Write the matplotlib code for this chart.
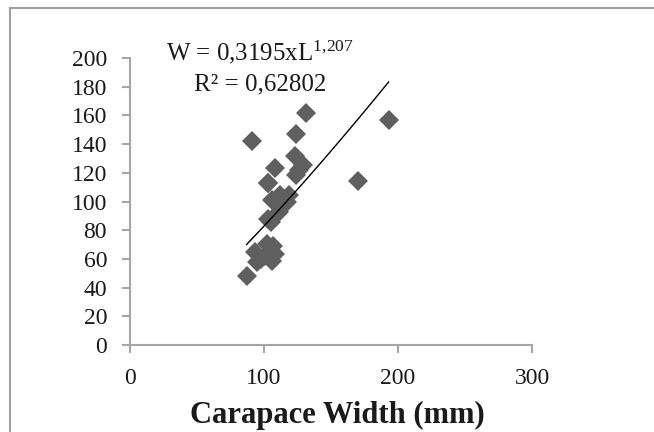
import numpy as np
import matplotlib
matplotlib.use("Agg")
import matplotlib.pyplot as plt
from matplotlib.lines import Line2D

plt.rcParams['font.family'] = ['Liberation Serif', 'DejaVu Serif']
plt.rcParams['mathtext.fontset'] = 'custom'
plt.rcParams['mathtext.rm'] = 'Liberation Serif'
plt.rcParams['mathtext.it'] = 'Liberation Serif'

# Carapace width (mm) and weight (g)
width = [131, 124, 91, 193, 170, 108, 103, 123, 129, 124,
         103, 112, 119, 106, 114, 111, 103, 101, 102, 107,
         93, 98, 106, 95, 108, 87, 105, 117, 126]
weight = [162, 147, 142.5, 157, 114, 123, 113, 131.5, 125.5, 118.5,
          112.7, 104.5, 104.5, 101, 97.4, 92.7, 88, 62, 70.4, 69.2,
          64.6, 60, 58.7, 57.5, 63.4, 48, 86, 100, 122]
coef_a = 0.3195
coef_b = 1.207
eq_text = r'W = 0,3195xL$^{\mathrm{1{,}207}}$'
r2_text = 'R² = 0,62802'
x_ticks = [0, 100, 200, 300]
y_ticks = list(range(0, 201, 20))

fig = plt.figure(figsize=(6.54, 4.32), dpi=100)
ax = fig.add_axes([130/654, 1-345/432, (532-130)/654, (345-58)/432])

ax.plot(width, weight, linestyle='none', marker='D', markersize=10,
        color='#5f5f5f', markeredgewidth=0, clip_on=False)

xs = np.linspace(min(width), max(width), 100)
ax.plot(xs, coef_a * xs**coef_b, color='black', linewidth=1.0, clip_on=False)

ax.set_xlim(0, 300)
ax.set_ylim(0, 200)
ax.set_xticks(x_ticks)
ax.set_yticks(y_ticks)
for s in ['top', 'right']:
    ax.spines[s].set_visible(False)
for s in ['left', 'bottom']:
    ax.spines[s].set_color('#a6a6a6')
    ax.spines[s].set_linewidth(1.5)
ax.tick_params(axis='both', colors='#a6a6a6', width=1.5, length=5.5,
               labelcolor='#1a1a1a', labelsize=17, direction='out')
ax.tick_params(axis='y', pad=11)
ax.tick_params(axis='x', pad=11)

ax.set_xlabel('Carapace Width (mm)', fontsize=22, fontweight='bold',
              color='#1a1a1a', labelpad=9)
ax.xaxis.label.set_x((337 - 130) / 402)

fig.text(260/654, 1-60/432, eq_text, ha='center', va='baseline',
         fontsize=18, color='#1a1a1a')
fig.text(260/654, 1-90/432, r2_text, ha='center', va='baseline',
         fontsize=18, color='#1a1a1a')

# outer frame lines (top and left)
fig.add_artist(Line2D([10/654, 1], [1-8/432, 1-8/432], color='#a0a0a0',
                      linewidth=1.5, transform=fig.transFigure))
fig.add_artist(Line2D([10/654, 10/654], [0, 1-8/432], color='#a0a0a0',
                      linewidth=1.5, transform=fig.transFigure))

fig.savefig('out.png', dpi=100)
